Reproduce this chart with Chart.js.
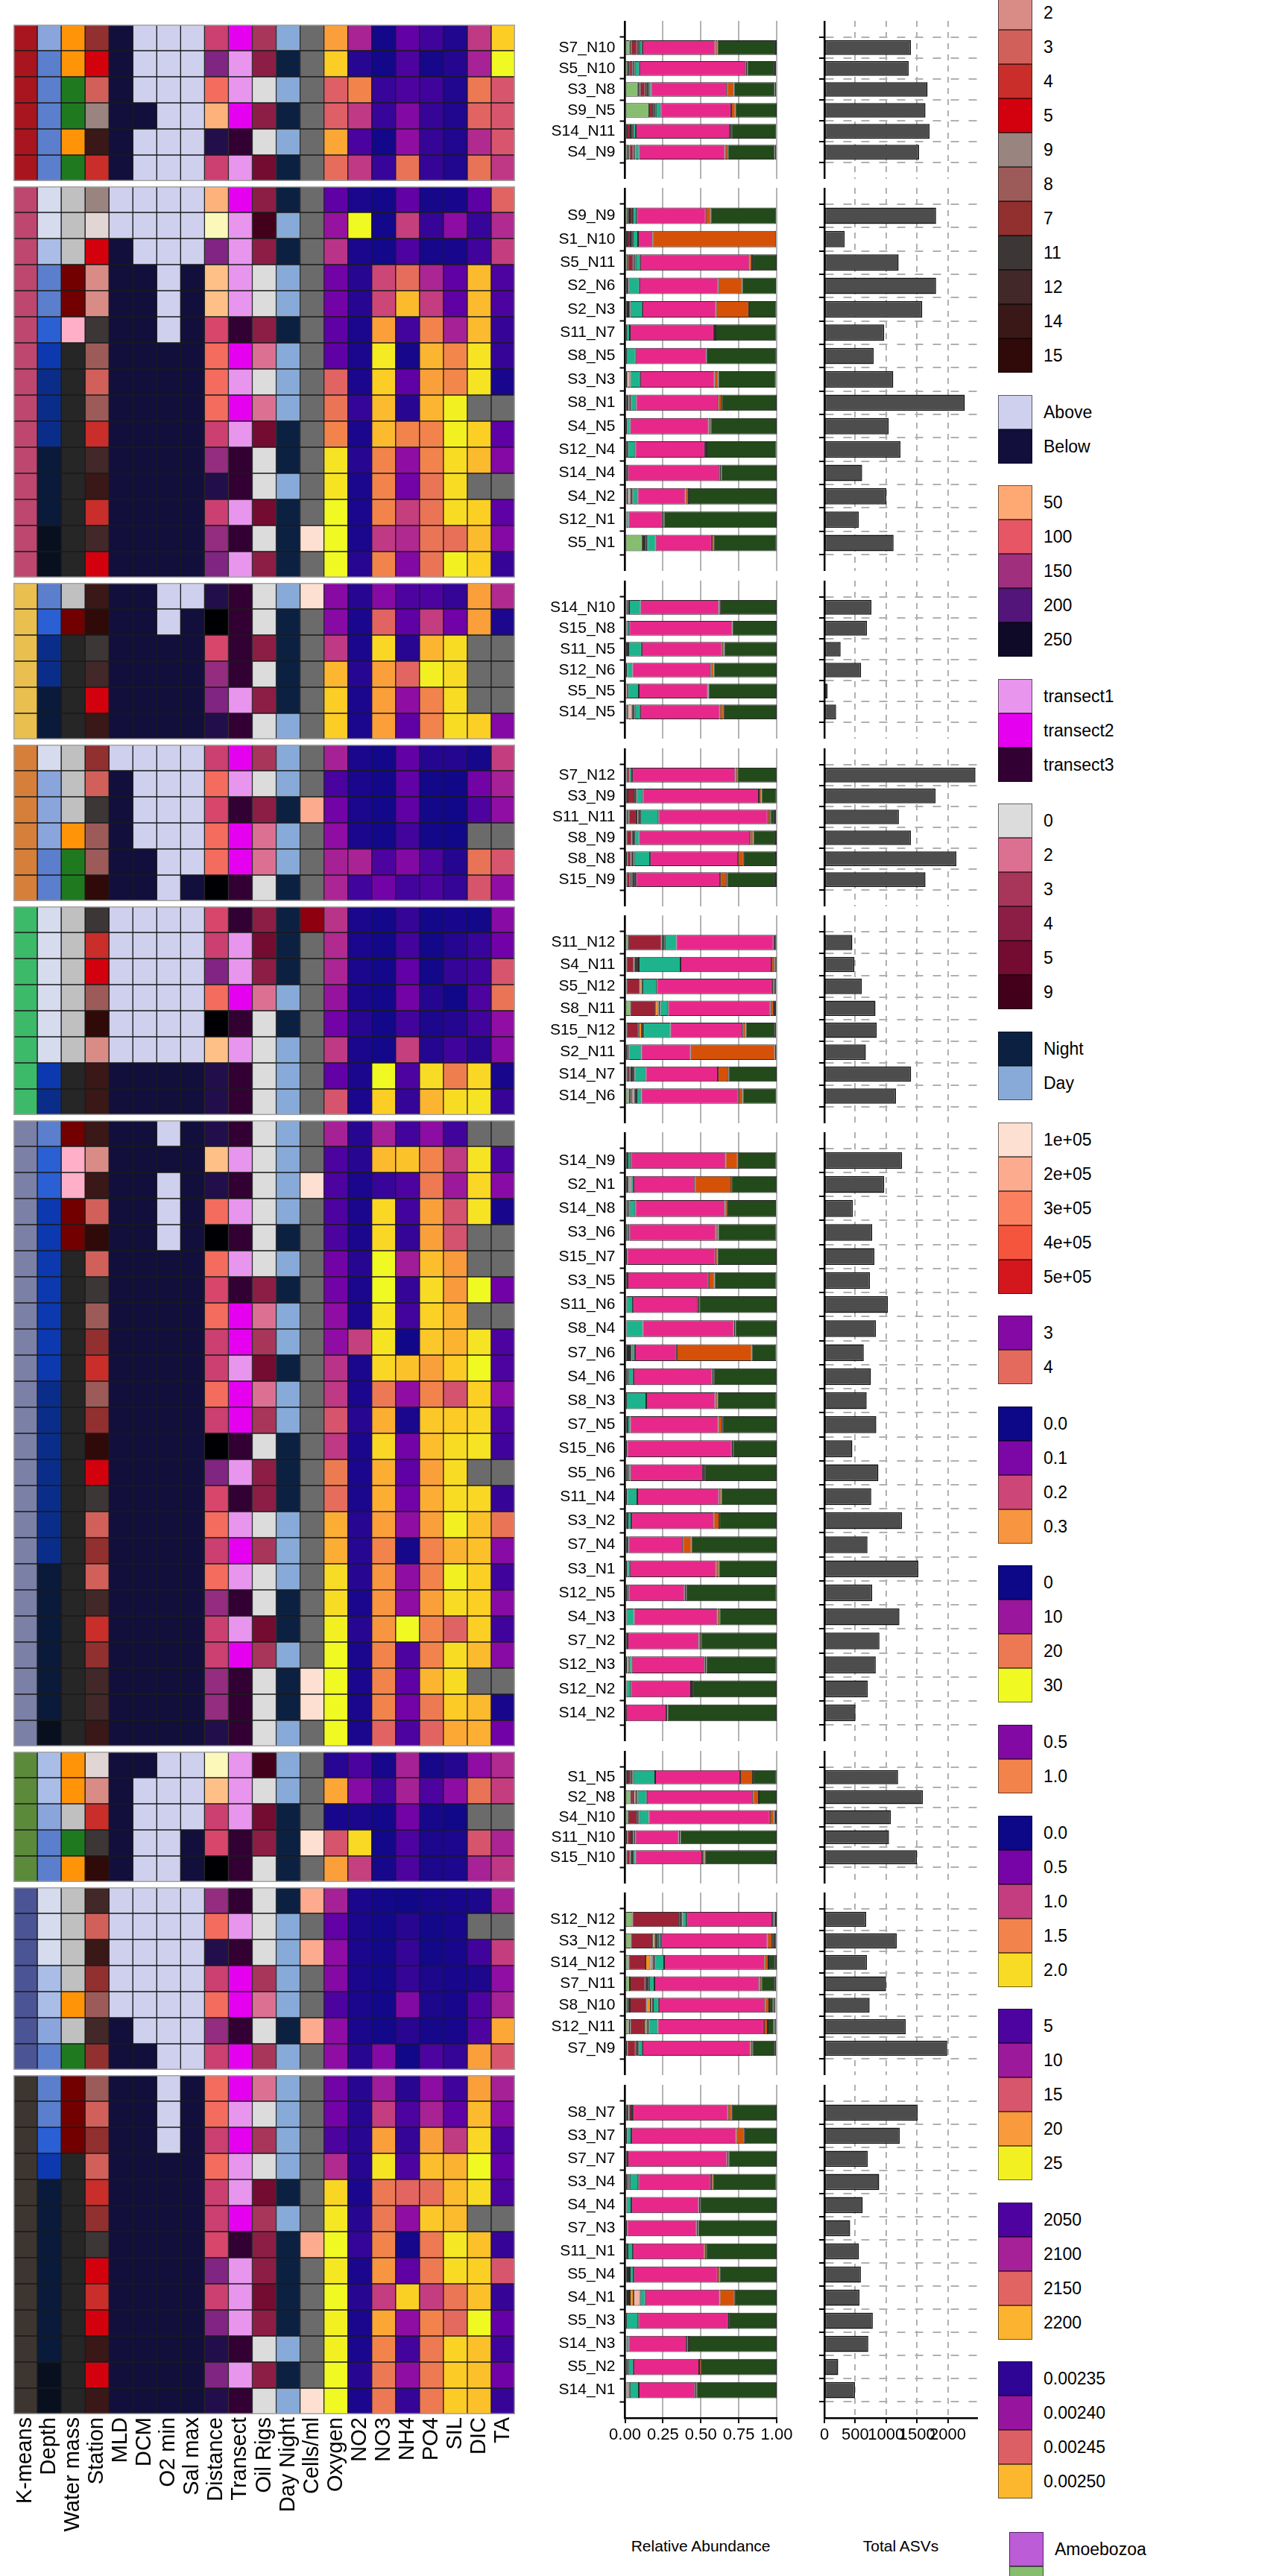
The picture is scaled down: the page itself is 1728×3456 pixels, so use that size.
<!DOCTYPE html>
<html>
<head>
<meta charset="utf-8">
<script src="https://cdn.jsdelivr.net/npm/chart.js@4.4.1/dist/chart.umd.min.js"></script>
<style>
  html, body { margin: 0; padding: 0; background: #fff; }
  body { width: 1728px; height: 3456px; position: relative; overflow: hidden;
         font-family: 'Liberation Sans', Arial, Helvetica, sans-serif; }
  canvas { position: absolute; }
  .key { position: absolute; width: 46px; height: 46px; box-sizing: border-box;
         border: 1px solid rgba(0,0,0,0.55); }
  .keytext { position: absolute; height: 46px; line-height: 46px; font-size: 23px;
             color: #000; white-space: nowrap; }
  .axistitle { position: absolute; font-size: 21px; color: #000; white-space: nowrap;
               transform: translate(-50%, -50%); }
</style>
</head>
<body>
<script>
// ---------- samples, grouped by k-means cluster ----------
const samples = [
  'S7_N10','S5_N10','S3_N8','S9_N5','S14_N11','S4_N9',
  'S9_N9','S1_N10','S5_N11','S2_N6','S2_N3','S11_N7','S8_N5','S3_N3','S8_N1','S4_N5','S12_N4','S14_N4','S4_N2','S12_N1','S5_N1',
  'S14_N10','S15_N8','S11_N5','S12_N6','S5_N5','S14_N5',
  'S7_N12','S3_N9','S11_N11','S8_N9','S8_N8','S15_N9',
  'S11_N12','S4_N11','S5_N12','S8_N11','S15_N12','S2_N11','S14_N7','S14_N6',
  'S14_N9','S2_N1','S14_N8','S3_N6','S15_N7','S3_N5','S11_N6','S8_N4','S7_N6','S4_N6','S8_N3','S7_N5','S15_N6','S5_N6','S11_N4','S3_N2','S7_N4','S3_N1','S12_N5','S4_N3','S7_N2','S12_N3','S12_N2','S14_N2',
  'S1_N5','S2_N8','S4_N10','S11_N10','S15_N10',
  'S12_N12','S3_N12','S14_N12','S7_N11','S8_N10','S12_N11','S7_N9',
  'S8_N7','S3_N7','S7_N7','S3_N4','S4_N4','S7_N3','S11_N1','S5_N4','S4_N1','S5_N3','S14_N3','S5_N2','S14_N1'
];
const groupSizes = [6, 15, 6, 6, 8, 24, 5, 7, 13];

const columns = ['K-means','Depth','Water mass','Station','MLD','DCM','O2 min','Sal max','Distance',
  'Transect','Oil Rigs','Day Night','Cells/ml','Oxygen','NO2','NO3','NH4','PO4','SIL','DIC','TA'];

// station level attributes
const stationIds      = [1, 2, 3, 4, 5, 7, 8, 9, 11, 12, 14, 15];
const stationDistance = [5, 37, 85, 122, 170, 122, 85, 45, 113, 157, 232, 269];
const stationTransect = [1, 1, 1, 1, 1, 2, 2, 2, 3, 3, 3, 3];
const stationOilRigs  = [9, 0, 0, 5, 4, 3, 2, 4, 4, 0, 0, 0];
const stationDayNight = ['Day','Day','Day','Night','Night','Day','Day','Night','Night','Night','Day','Night'];

// sample level attributes (same order as samples)
const depthLevel = [
  3,4,4,4,4,4,
  1,1,2,4,4,5,6,7,7,7,8,8,8,9,9,
  4,5,7,7,8,8,
  1,3,3,3,4,4,
  1,1,1,1,1,1,6,7,
  4,5,5,6,6,6,6,6,6,6,7,7,7,7,7,7,7,8,8,8,8,8,8,9,
  2,2,3,4,4,
  1,1,1,2,2,3,4,
  4,4,5,6,8,8,8,8,8,8,8,9,9
];
const waterMass = ('OOGGOG' + 'LLLRRP' + 'K'.repeat(9) + 'LRKKKK' + 'LLLOGG' + 'LLLLLLKK' +
  'RPPRR' + 'K'.repeat(19) + 'OOLGO' + 'LLLLOLG' + 'RRR' + 'K'.repeat(10)).split('');
const mld = ('BBBBBB' + 'AAB' + 'B'.repeat(12) + 'BBBBBB' + 'ABBBBB' + 'AAAAAABB' +
  'B'.repeat(24) + 'BBBBB' + 'AAAAABB' + 'B'.repeat(13)).split('');
const dcm = ('AAABAA' + 'AAA' + 'B'.repeat(12) + 'BBBBBB' + 'AAAABB' + 'AAAAAABB' +
  'B'.repeat(24) + 'BAAAA' + 'AAAAAAB' + 'B'.repeat(13)).split('');
const o2min = ('AAAAAA' + 'AAAAAA' + 'B'.repeat(9) + 'AABBBB' + 'AAAAAA' + 'AAAAAABB' +
  'ABAAA' + 'B'.repeat(19) + 'AAAAA' + 'AAAAAAA' + 'AAA' + 'B'.repeat(10)).split('');
const salMax = ('AAAAAA' + 'AAA' + 'B'.repeat(12) + 'ABBBBB' + 'AAAAAB' + 'AAAAAABB' +
  'B'.repeat(24) + 'AAABB' + 'AAAAAAA' + 'B'.repeat(13)).split('');

const NA = null;
const cellsPerMl = [
  NA,NA,NA,NA,NA,NA,
  NA,NA,NA,NA,NA,NA,NA,NA,NA,NA,NA,NA,NA,1e5,NA,
  1e5,NA,NA,NA,NA,NA,
  NA,NA,2e5,NA,NA,NA,
  6e5,NA,NA,NA,NA,NA,NA,NA,
  NA,NA,1e5,NA,NA,NA,NA,NA,NA,NA,NA,NA,NA,NA,NA,NA,NA,NA,NA,NA,NA,1e5,1e5,NA,
  NA,NA,NA,1e5,NA,
  2e5,NA,2e5,NA,NA,2e5,NA,
  NA,NA,NA,NA,NA,NA,2e5,NA,NA,NA,NA,NA,1e5
];
const oxygen = [
  4.46,4.80,3.90,3.90,4.52,4.03,
  2.72,3.15,3.46,2.86,2.86,2.72,2.72,3.95,4.09,4.23,4.95,4.95,5.09,5.09,5.09,
  3.03,3.03,3.52,4.63,4.80,4.80,
  3.29,2.57,2.86,3.09,3.29,3.32,
  3.46,3.37,3.32,3.15,2.86,3.52,2.74,3.80,
  3.29,2.60,2.60,2.60,2.60,2.86,2.86,3.09,3.09,3.46,3.52,3.80,3.52,4.15,4.03,4.57,4.57,4.89,4.89,5.03,5.09,5.09,5.09,5.09,
  2.37,4.52,2.29,3.80,4.46,
  3.29,2.74,3.09,3.00,2.60,3.09,3.09,
  2.86,2.86,2.60,3.37,4.86,4.98,5.09,4.98,5.09,5.03,5.03,5.09,5.09
];
const no2 = [
  .15,.02,.28,.18,.05,.18,
  .01,.40,.01,.02,.02,.01,.01,.01,.03,.01,.02,.01,.01,.01,.02,
  .02,.01,.01,.02,.01,.01,
  .01,.01,.01,.01,.15,.04,
  .01,.01,.01,.01,.02,.01,.01,.01,
  .02,.02,.01,.01,.01,.02,.01,.01,.19,.01,.01,.02,.01,.01,.01,.02,.02,.02,.01,.02,.01,.01,.01,.01,
  .05,.11,.01,.37,.19,
  .01,.01,.01,.01,.01,.01,.02,
  .02,.02,.02,.02,.01,.02,.03,.01,.02,.01,.01,.02,.01
];
const no3 = [
  .3,.3,2.4,2.4,.3,2.4,
  .3,.3,.3,15,15,23.4,29,27,25.5,25.5,21,21,21,13.5,21,
  8.4,18,27.6,23.4,23.4,23.4,
  .3,.3,.3,.3,3.9,6.6,
  .3,.3,.3,.3,.3,.3,30,27,
  11,25.5,2.4,27.6,27.6,30,30,28.5,28.5,27.6,20,24.6,27.6,24.6,24.6,23.4,21,22.5,22.5,22.5,21,21,21,18,
  .6,3,.3,.3,.6,
  .3,.3,.3,.3,.3,.3,8.1,
  10.5,14,23.4,28.5,20,20,21,22.5,14,24,21,20,20
];
const nh4 = [
  .40,.34,.34,.50,.54,.94,
  .40,.74,.34,.92,1.18,.31,.21,.39,.25,1.00,.54,.45,.74,.65,.50,
  .34,.39,.25,.89,.54,.39,
  .40,.40,.39,.31,.50,.31,
  .28,.31,.40,.45,.31,.74,.34,.28,
  .31,1.20,.34,.31,.28,.60,.28,.31,.20,1.20,.54,.22,.45,.39,.45,.54,.21,.54,.54,1.35,.34,.39,.45,.34,
  .62,.62,.45,.34,.34,
  .20,.25,.28,.28,.50,.25,.20,
  .25,.34,.28,.34,.89,.54,.21,.39,1.24,.54,.31,.54,.28
];
const po4 = [
  .21,.04,.21,.17,.17,.17,
  .04,.17,.04,.82,1.00,1.50,1.80,1.68,1.80,1.50,1.50,1.40,1.40,1.40,1.40,
  .28,1.00,1.80,2.10,1.50,1.50,
  .10,.02,.02,.02,.28,.28,
  .02,.02,.02,.10,.06,.10,2.00,1.80,
  .63,1.50,1.44,1.68,1.68,1.85,2.00,1.95,1.90,1.68,1.50,1.90,1.85,1.68,1.76,1.68,1.50,1.50,1.68,1.50,1.50,1.80,1.44,1.29,
  .04,.28,.04,.06,.06,
  .04,.02,.02,.06,.06,.04,.28,
  .63,.80,1.68,1.85,1.35,1.90,1.44,1.44,1.00,1.50,1.44,1.44,1.44
];
const sil = [
  2.9,3.1,2.9,2.9,2.9,2.9,
  2.5,8.9,2.5,6.1,6.1,10.7,18.6,18.6,25,25,23.9,23.9,23.9,17,25,
  3.8,7.1,23.9,23.9,23.9,23.9,
  3.1,2.2,2.2,2.2,3.1,3.8,
  2.5,3.1,3.8,2.2,3.1,4.3,18,23.9,
  4.3,12.8,10,14.7,14.7,20,20,21.6,21.6,23,14.7,23,23.9,23.9,23.9,25,21.6,25,23.9,16,23.9,23.9,23,20.9,
  3.1,8.9,2.2,2.7,2.7,
  2.5,2.5,2.5,2.5,2.5,2.5,3.8,
  4.3,6.1,12.8,21.5,22,22,24.5,23.9,17.4,16.5,23.4,23,23
];
const dic = [
  2118,2101,2163,2150,2107,2160,
  2058,2039,2043,2203,2203,2203,2224,2224,NA,2214,2203,NA,2214,2203,2214,
  2188,2188,NA,NA,NA,2214,
  2026,2069,2050,NA,2160,2139,
  2024,2039,2043,2050,2043,2033,2218,2224,
  NA,2224,2218,2224,NA,NA,2235,NA,2224,2235,2214,2218,2224,NA,2218,2207,2207,2214,2214,2214,2203,NA,2203,2197,
  2086,2160,NA,2139,2101,
  2028,NA,2043,2028,2050,2050,2188,
  2188,2203,2218,2235,2220,NA,2207,2214,2207,2235,2207,2207,2207
];
const ta = [
  0.002511,0.002530,0.002444,0.002444,0.002444,0.002424,
  0.002453,0.002415,0.002428,0.002363,0.002363,0.002353,0.002353,0.002342,NA,0.002371,0.002390,NA,0.002371,0.002390,0.002353,
  0.002415,0.002344,NA,NA,NA,0.002390,
  0.002428,0.002409,0.002396,NA,0.002444,0.002396,
  0.002392,0.002380,0.002444,0.002463,0.002396,0.002392,0.002342,0.002353,
  NA,0.002363,0.002392,0.002342,NA,NA,0.002380,NA,0.002363,0.002363,0.002392,0.002363,0.002357,NA,0.002353,0.002463,0.002392,0.002357,0.002392,0.002357,0.002392,NA,0.002342,0.002380,
  0.002415,0.002428,NA,0.002411,0.002424,
  0.002409,NA,0.002428,0.002396,0.002409,0.002492,0.002444,
  0.002409,0.002392,0.002363,0.002373,0.002363,NA,0.002353,0.002444,0.002353,0.002373,0.002357,0.002380,0.002353
];

// ---------- relative abundance, one array per taxon (left to right in the stack) ----------
const abundAmoebozoa = [
  0,0,0,0,0,0,
  0,0,0,0,0,0,0,0,0,0,0,0,0,0,0,
  0,0,0,0,0,0,
  0,0,0,0,0,0,
  0,0,0,0,0,0,0,0,
  0,0,0,0,0,0,0,0,0,0,0,0,0,0,0,0,0,0,0,0,0,0,0,0,
  0,0,0,0,0,
  0,0,0,0,0,0,0,
  0,0,0,0,0,0,0,0,0,0,0,0,0
];
const abundLightGreen = [
  .03,.018,.085,.16,.012,.018,
  .018,.007,.018,0,0,0,0,0,0,0,0,0,0,0,.115,
  0,0,0,0,0,0,
  0,0,.01,0,.014,0,
  .021,.01,.01,.035,0,0,0,.025,
  0,0,0,0,0,0,0,0,0,0,0,0,0,0,0,0,0,0,0,0,0,0,0,0,
  0,.035,.021,0,0,
  .049,.04,.025,.032,.018,.025,.014,
  0,0,0,0,0,0,0,0,0,0,0,0,0
];
const abundDark = [
  .01,.01,.014,0,0,.012,
  .014,.01,0,.025,.035,.007,.007,.014,.024,.014,.018,.018,.01,.01,.021,
  .01,.01,.007,.014,.004,.01,
  .01,.017,.014,.01,0,.01,
  0,0,0,0,.01,.014,.01,.01,
  .017,.025,.01,.02,.014,.017,.01,.01,.045,.021,.007,.017,.014,.021,.014,.017,.025,.014,.014,.01,.017,.014,.01,.007,
  .017,0,0,.014,.01,
  0,0,0,0,.014,.01,0,
  .025,.014,.017,.014,.01,.014,.017,.032,.032,.007,.01,.021,.01
];
const abundDarkRed = [
  .04,.02,.035,.025,.025,.025,
  .02,.02,.035,0,0,0,0,0,.014,0,0,0,0,0,0,
  0,0,0,0,0,0,
  .02,.045,.052,.035,.025,.025,
  .22,.049,.088,.165,.08,.01,.018,0,
  0,0,0,0,0,0,0,0,0,0,0,0,0,0,0,0,0,0,0,0,0,0,0,0,
  .021,.021,.056,.028,.025,
  .308,.14,.11,.102,.11,.09,.056,
  .017,0,0,0,0,0,0,0,0,0,0,0,0
];
const abundOrange = [
  0,0,.01,0,0,0,
  0,0,0,0,0,0,0,0,0,0,0,0,.01,0,0,
  .01,0,0,0,0,.01,
  0,0,.014,0,0,.01,
  0,0,.017,.021,.021,0,.007,.01,
  0,0,.01,0,0,0,0,0,0,0,0,0,0,0,0,0,0,0,0,0,0,0,0,0,
  .01,0,0,0,0,
  0,.018,.032,0,.028,.017,.01,
  0,0,0,0,0,0,0,0,.025,0,0,0,0
];
const abundPeach = [
  0,0,0,0,0,0,
  0,0,0,0,0,0,0,.02,0,0,0,0,.018,0,.01,
  0,0,.01,0,.014,.025,
  0,0,0,0,0,0,
  0,0,0,0,.01,0,.007,.014,
  0,.014,.01,0,0,0,0,0,0,0,0,0,0,0,0,0,0,0,0,0,0,.014,0,0,
  0,.014,0,0,0,
  0,0,.014,0,.014,0,0,
  0,0,0,.01,0,0,0,0,.042,0,0,0,.014
];
const abundDark2 = [
  .015,.017,.01,.018,.014,.014,
  0,.014,.017,0,0,0,0,0,0,0,0,0,.01,0,0,
  .007,0,.005,0,0,.02,
  0,.017,.01,.017,.021,.017,
  .021,.032,0,.01,0,0,.021,.017,
  0,0,0,0,0,0,0,0,0,0,0,0,0,0,0,0,0,0,0,0,0,0,0,0,
  .007,.014,.017,.017,.017,
  .021,.02,.014,.025,0,.014,.007,
  0,0,0,.007,0,0,0,0,0,0,0,0,.007
];
const abundTeal = [
  .02,.03,.018,.032,.02,.025,
  .025,.035,.03,.07,.08,.025,.063,.066,.035,.021,.05,0,.035,.015,.056,
  .077,.018,.088,.035,.073,.035,
  .017,.038,.12,.032,.105,.01,
  .077,.275,.095,.053,.179,.084,.074,.032,
  .021,.017,.038,.01,0,0,.042,.108,.021,.035,.133,.017,0,.014,.067,.025,0,.017,.01,.049,0,.017,.028,0,
  .144,.06,.063,.01,.017,
  .028,.021,.063,.035,.039,.06,.028,
  .01,.028,0,.056,.032,0,.035,.025,.035,.08,.014,.035,.06
];
const abundPink = [
  .48,.70,.50,.465,.62,.565,
  .455,.095,.72,.52,.485,.555,.465,.49,.54,.515,.46,.605,.315,.22,.37,
  .515,.68,.53,.515,.455,.525,
  .68,.765,.72,.73,.58,.555,
  .64,.60,.76,.675,.475,.325,.475,.64,
  .625,.405,.59,.57,.582,.535,.428,.60,.275,.52,.455,.58,.69,.479,.539,.542,.357,.568,.37,.55,.469,.48,.397,.266,
  .56,.70,.798,.285,.44,
  .565,.70,.66,.69,.70,.70,.71,
  .627,.69,.656,.48,.445,.458,.468,.554,.49,.593,.382,.433,.37
];
const abundRust = [
  .015,.01,.045,.028,.01,.018,
  .034,.815,.018,.156,.218,.01,0,.024,.024,.014,.01,.01,.022,.01,.014,
  .012,0,.014,.021,.004,.025,
  .014,.017,.017,.021,.038,.045,
  0,.021,.014,.021,.021,.555,.07,.028,
  .08,.24,.017,.014,.014,.038,.01,.01,.495,.01,.014,.028,.007,.01,.014,.038,.056,.021,.01,.014,.014,.01,.01,.007,
  .084,.038,.028,.01,.017,
  0,.032,.028,.014,.028,.025,.014,
  .025,.056,.01,.014,.01,.01,.014,.014,.10,.01,.014,.014,.01
];
const abundDarkGreen = [
  .38,.18,.27,.272,.295,.31,
  .43,0,.162,.224,.18,.40,.464,.38,.363,.436,.46,.367,.58,.745,.413,
  .369,.292,.346,.415,.45,.35,
  .26,.10,.028,.145,.207,.318,
  0,0,0,0,.19,0,.318,.22,
  .255,.30,.32,.384,.39,.408,.51,.272,.161,.415,.39,.358,.289,.476,.366,.378,.562,.38,.595,.377,.50,.464,.555,.72,
  .156,.118,0,.636,.464,
  .012,.014,.04,.088,.028,.042,.147,
  .296,.212,.317,.417,.503,.518,.466,.375,.276,.31,.58,.497,.529
];
const abundEnd = [
  .01,.01,.01,0,0,.01,
  0,0,0,0,0,0,0,0,0,0,0,0,0,0,0,
  0,0,0,0,0,0,
  0,0,.01,.01,.01,.01,
  .019,.012,.012,.015,.01,.01,0,0,
  0,0,0,0,0,0,0,0,0,0,0,0,0,0,0,0,0,0,0,0,0,0,0,0,
  0,0,.017,0,.01,
  .017,.012,.014,.01,.014,.014,.01,
  0,0,0,0,0,0,0,0,0,0,0,0,0
];

const totalASVs = [
  1401,1366,1672,1638,1703,1534,
  1810,328,1203,1810,1586,970,797,1116,2276,1043,1233,612,1004,556,1121,
  763,690,263,595,52,190,
  2448,1802,1207,1401,2138,1638,
  453,487,608,828,849,672,1405,1160,
  1259,970,461,776,810,737,1030,836,638,754,685,841,453,875,759,1259,698,1522,776,1216,892,832,703,504,
  1194,1595,1078,1047,1500,
  677,1172,690,1000,733,1319,1991,
  1513,1220,703,888,621,418,560,591,569,784,711,224,496
];
const asvTicks = [0, 500, 1000, 1500, 2000];

const taxa = ['Amoebozoa','Archaeplastida','Taxon 3','Taxon 4','Taxon 5','Taxon 6','Taxon 7','Taxon 8','Taxon 9','Taxon 10','Taxon 11','Taxon 12'];
const taxaSeries = [abundAmoebozoa, abundLightGreen, abundDark, abundDarkRed, abundOrange, abundPeach,
  abundDark2, abundTeal, abundPink, abundRust, abundDarkGreen, abundEnd];

// legend breaks
const stationLegend = [1, 2, 3, 4, 5, 9, 8, 7, 11, 12, 14, 15];
const layerLegend = ['Above', 'Below'];
const distanceLegend = [50, 100, 150, 200, 250];
const transectLegend = ['transect1', 'transect2', 'transect3'];
const oilLegend = [0, 2, 3, 4, 5, 9];
const dayNightLegend = ['Night', 'Day'];
const cellsLegend = [1e5, 2e5, 3e5, 4e5, 5e5];
const oxygenLegend = [3, 4];
const no2Legend = [0, 0.1, 0.2, 0.3];
const no3Legend = [0, 10, 20, 30];
const nh4Legend = [0.5, 1.0];
const po4Legend = [0, 0.5, 1.0, 1.5, 2.0];
const silLegend = [5, 10, 15, 20, 25];
const dicLegend = [2050, 2100, 2150, 2200];
const taLegend = [0.00235, 0.00240, 0.00245, 0.00250];

// ---------- colours ----------
const clusterColors = ['#a8151e','#bd476f','#e9bf4f','#d67f3a','#3cba6a','#7a80a6','#5b8a3b','#4b5494','#3d352f'];
const depthColors = ['#d6dcee','#aabde6','#8aa5dc','#5b7fcc','#2b5fd4','#0c39b0','#0b2d8a','#0a1a3a','#081020'];
const waterMassColors = { O: '#ff9408', G: '#1f7a1f', L: '#c0c0c0', R: '#730000', P: '#ffafc8', K: '#262626' };
const stationColors = { 1: '#e2d6d5', 2: '#d98c86', 3: '#d2605a', 4: '#c92e2a', 5: '#d3000d', 9: '#998480',
  8: '#9c5b58', 7: '#922f2f', 11: '#3d3636', 12: '#422828', 14: '#3a1817', 15: '#300a08' };
const layerColors = { A: '#cfcfee', B: '#120f3d' };
const transectColors = { 1: '#e895ee', 2: '#e600f0', 3: '#330033' };
const oilColors = { 0: '#dcdcdc', 2: '#dc7093', 3: '#a8365a', 4: '#8c1e45', 5: '#740b30', 9: '#43001a' };
const dayNightColors = { Night: '#0c2142', Day: '#87aad8' };
const NA_COLOR = '#6b6b6b';
const PLASMA = ['#0d0887','#41049d','#6a00a8','#8f0da4','#b12a90','#cc4778','#e16462','#f2844b','#fca636','#fcce25','#f0f921'];
const MAGMA = ['#000004','#140e36','#3b0f70','#641a80','#8c2981','#b73779','#de4968','#f7705c','#fe9f6d','#fecf92','#fcfdbf'];
const cellStops = [[1e5,'#fde0d2'],[2e5,'#fcab8f'],[3e5,'#fb8060'],[4e5,'#f6553d'],[5e5,'#d3171d'],[6e5,'#8e0010']];
const chemDomains = { Oxygen: [2.23, 5.09], NO2: [0, 0.4], NO3: [0, 30], NH4: [0.19, 1.35], PO4: [0, 2.15],
  SIL: [2, 25.5], DIC: [2022, 2235], TA: [0.002338, 0.00253] };
const chemValues = { Oxygen: oxygen, NO2: no2, NO3: no3, NH4: nh4, PO4: po4, SIL: sil, DIC: dic, TA: ta };
const taxaColors = ['#bc5cd6','#86bd6e','#2b2b2b','#9b2335','#f7901e','#f2b5a5','#3a3a3a','#1db38c','#e7288a','#d55108','#234a1a','#2d2f3a'];

// sanity check on the hand typed arrays
const lengthCheck = { depthLevel, waterMass, mld, dcm, o2min, salMax, cellsPerMl, oxygen, no2, no3, nh4, po4, sil, dic, ta, totalASVs };
taxaSeries.forEach((s, k) => { lengthCheck['taxon' + k] = s; });
for (const [k, v] of Object.entries(lengthCheck)) {
  if (v.length !== samples.length) throw new Error(k + ' has ' + v.length + ' values');
}

function hexToRgb(h) { const n = parseInt(h.slice(1), 16); return [n >> 16, (n >> 8) & 255, n & 255]; }
function mix(a, b, f) {
  const A = hexToRgb(a), B = hexToRgb(b);
  return 'rgb(' + A.map((v, k) => Math.round(v + (B[k] - v) * f)).join(',') + ')';
}
function ramp(stops, t) {
  t = Math.max(0, Math.min(1, t));
  const p = t * (stops.length - 1);
  const k = Math.min(Math.floor(p), stops.length - 2);
  return mix(stops[k], stops[k + 1], p - k);
}
function distanceColor(d) { return ramp(MAGMA, 1 - (d - 2) / 267); }
function cellsColor(v) {
  if (v == null) return NA_COLOR;
  for (let k = 0; k < cellStops.length - 1; k++) {
    const [v0, c0] = cellStops[k], [v1, c1] = cellStops[k + 1];
    if (v <= v1) return mix(c0, c1, Math.max(0, (v - v0) / (v1 - v0)));
  }
  return cellStops[cellStops.length - 1][1];
}
function chemColor(name, v) {
  if (v == null) return NA_COLOR;
  const [lo, hi] = chemDomains[name];
  return ramp(PLASMA, (v - lo) / (hi - lo));
}

// cluster of each row follows the grouping
const clusterOf = [];
groupSizes.forEach((n, g) => { for (let k = 0; k < n; k++) clusterOf.push(g); });
const stationOf = samples.map(s => Number(s.split('_')[0].slice(1)));

function cellColor(c, i) {
  const s = stationOf[i], si = stationIds.indexOf(s);
  const name = columns[c];
  switch (name) {
    case 'K-means': return clusterColors[clusterOf[i]];
    case 'Depth': return depthColors[depthLevel[i] - 1];
    case 'Water mass': return waterMassColors[waterMass[i]];
    case 'Station': return stationColors[s];
    case 'MLD': return layerColors[mld[i]];
    case 'DCM': return layerColors[dcm[i]];
    case 'O2 min': return layerColors[o2min[i]];
    case 'Sal max': return layerColors[salMax[i]];
    case 'Distance': return distanceColor(stationDistance[si]);
    case 'Transect': return transectColors[stationTransect[si]];
    case 'Oil Rigs': return oilColors[stationOilRigs[si]];
    case 'Day Night': return dayNightColors[stationDayNight[si]];
    case 'Cells/ml': return cellsColor(cellsPerMl[i]);
    default: return chemColor(name, chemValues[name][i]);
  }
}

// ---------- layout ----------
// heatmap tiles
const ROW_H = 35, GROUP_GAP = 7, TOP_Y = 33;
const HEAT_X = 18, COL_W = 32.05;
// bar panels (own row pitch, with a small expansion at both ends)
const BAR_TOP = 28.3, BAR_P = 33.63, BAR_E = 5, BAR_GAP = 12.4;
const ABUND_X0 = 838.5, ABUND_X1 = 1041.7, ABUND_LABEL_W = 120.5;
const ASV_X0 = 1106, ASV_PX = 0.0828, ASV_MAX = 2476;
const FONT = "'Liberation Sans', Arial, Helvetica, sans-serif";

Chart.defaults.font.family = FONT;
Chart.defaults.color = '#000';
Chart.defaults.animation = false;

function addCanvas(x, y, w, h) {
  const c = document.createElement('canvas');
  c.width = Math.round(w);
  c.height = Math.round(h);
  c.style.left = Math.round(x) + 'px';
  c.style.top = Math.round(y) + 'px';
  c.style.width = Math.round(w) + 'px';
  c.style.height = Math.round(h) + 'px';
  document.body.appendChild(c);
  return c;
}

const heatFrame = {
  id: 'heatFrame',
  afterDatasetsDraw(chart) {
    const { ctx, chartArea: a } = chart;
    ctx.save();
    ctx.strokeStyle = '#a3a3a3';
    ctx.lineWidth = 1.5;
    ctx.strokeRect(a.left + 0.75, a.top + 0.75, a.right - a.left - 1.5, a.bottom - a.top - 1.5);
    ctx.restore();
  }
};

function drawHeatmap(idx, top, last) {
  const h = idx.length * ROW_H;
  const extra = last ? 200 : 0;
  const canvas = addCanvas(HEAT_X, top, COL_W * columns.length, h + extra);
  const scales = {
    x: { type: 'linear', stacked: true, min: 0, max: columns.length, display: false },
    y: { type: 'category', stacked: true, display: false }
  };
  if (last) {
    scales.cols = {
      type: 'category', axis: 'x', position: 'bottom', labels: columns, offset: true,
      grid: { display: false, drawTicks: false }, border: { display: false },
      ticks: { autoSkip: false, minRotation: 90, maxRotation: 90, padding: 4, font: { size: 29 } },
      afterFit(s) { s.height = extra; s.paddingLeft = 0; s.paddingRight = 0; }
    };
  }
  new Chart(canvas, {
    type: 'bar',
    data: {
      labels: idx.map(i => samples[i]),
      datasets: columns.map((col, c) => ({
        label: col,
        data: idx.map(() => 1),
        backgroundColor: idx.map(i => cellColor(c, i)),
        borderColor: '#1b1b1b', borderWidth: 1, borderSkipped: false,
        barPercentage: 1, categoryPercentage: 1
      }))
    },
    options: {
      indexAxis: 'y', responsive: false, animation: false,
      layout: { padding: 0 },
      plugins: { legend: { display: false }, tooltip: { enabled: false } },
      scales
    },
    plugins: [heatFrame]
  });
}

// shared row axis for the two bar panels: one tick per sample
function rowScale(names, showLabels, gridOpts, borderOpts, width) {
  return {
    type: 'linear', reverse: true, stacked: true,
    min: -0.5 - BAR_E / BAR_P, max: names.length - 0.5 + BAR_E / BAR_P,
    afterBuildTicks(s) { s.ticks = names.map((_, k) => ({ value: k })); },
    ticks: { display: showLabels, autoSkip: false, padding: 6, font: { size: 21 }, callback: v => names[v] },
    grid: gridOpts,
    border: borderOpts,
    afterFit(s) { s.width = width; s.paddingTop = 0; s.paddingBottom = 0; }
  };
}

function drawAbundance(idx, top, last) {
  const names = idx.map(i => samples[i]);
  const h = idx.length * BAR_P + 2 * BAR_E;
  const bottom = last ? 45 : 0;
  const padRight = 30;
  const left = ABUND_X0 - ABUND_LABEL_W;
  const canvas = addCanvas(left, top, ABUND_X1 - left + padRight, h + bottom);
  new Chart(canvas, {
    type: 'bar',
    data: {
      datasets: taxa.map((t, k) => ({
        label: t,
        data: idx.map((i, r) => ({ x: taxaSeries[k][i] || null, y: r })),
        backgroundColor: taxaColors[k],
        borderColor: '#2a2a2a', borderWidth: 1, borderSkipped: false,
        barPercentage: 0.7, categoryPercentage: 1
      }))
    },
    options: {
      indexAxis: 'y', responsive: false, animation: false,
      layout: { padding: { right: padRight } },
      plugins: { legend: { display: false }, tooltip: { enabled: false } },
      scales: {
        x: {
          type: 'linear', stacked: true, min: 0, max: 1,
          ticks: { display: last, stepSize: 0.25, autoSkip: false, maxRotation: 0, padding: 3,
                   font: { size: 22 }, callback: v => v.toFixed(2) },
          grid: { color: '#b3b3b3', lineWidth: 2, drawTicks: last, tickLength: 7, tickColor: '#000', tickWidth: 2 },
          border: { display: last, color: '#000', width: 2.5 },
          afterFit(s) { s.height = bottom; s.paddingLeft = 0; s.paddingRight = 0; }
        },
        y: rowScale(names, true,
          { drawOnChartArea: false, drawTicks: true, tickLength: 7, tickColor: '#000', tickWidth: 2 },
          { color: '#000', width: 2.5 }, ABUND_LABEL_W)
      }
    }
  });
}

function drawASV(idx, top, last) {
  const names = idx.map(i => samples[i]);
  const h = idx.length * BAR_P + 2 * BAR_E;
  const bottom = last ? 45 : 0;
  const padRight = 14;
  const left = ASV_X0 - 8;
  const right = ASV_X0 + ASV_MAX * ASV_PX;
  const canvas = addCanvas(left, top, right - left + padRight, h + bottom);
  new Chart(canvas, {
    type: 'bar',
    data: {
      datasets: [{
        label: 'Total ASVs',
        data: idx.map((i, r) => ({ x: totalASVs[i], y: r })),
        backgroundColor: '#4d4d4d', borderColor: '#111', borderWidth: 1.5, borderSkipped: false,
        barPercentage: 0.7, categoryPercentage: 1
      }]
    },
    options: {
      indexAxis: 'y', responsive: false, animation: false,
      layout: { padding: { right: padRight } },
      plugins: { legend: { display: false }, tooltip: { enabled: false } },
      scales: {
        x: {
          type: 'linear', min: 0, max: ASV_MAX,
          afterBuildTicks(s) { s.ticks = asvTicks.map(v => ({ value: v })); },
          ticks: { display: last, autoSkip: false, maxRotation: 0, padding: 3,
                   font: { size: 22 }, callback: v => String(v) },
          grid: { color: '#b0b0b0', lineWidth: 2, drawTicks: last, tickLength: 7, tickColor: '#000', tickWidth: 2 },
          border: { display: last, color: '#000', width: 2.5, dash: [8, 7] },
          afterFit(s) { s.height = bottom; s.paddingLeft = 0; s.paddingRight = 0; }
        },
        y: rowScale(names, false,
          { color: '#b0b0b0', lineWidth: 2, drawTicks: true, tickLength: 7, tickColor: '#000', tickWidth: 2 },
          { color: '#000', width: 2.5, dash: [11, 13] }, 8)
      }
    }
  });
}

let start = 0, yHeat = TOP_Y, yBar = BAR_TOP;
groupSizes.forEach((size, g) => {
  const idx = [];
  for (let k = 0; k < size; k++) idx.push(start + k);
  const last = g === groupSizes.length - 1;
  drawHeatmap(idx, yHeat, last);
  drawAbundance(idx, yBar, last);
  drawASV(idx, yBar, last);
  start += size;
  yHeat += size * ROW_H + GROUP_GAP;
  yBar += size * BAR_P + 2 * BAR_E + BAR_GAP;
});

// axis titles
function axisTitle(text, cx, cy) {
  const d = document.createElement('div');
  d.className = 'axistitle';
  d.textContent = text;
  d.style.left = cx + 'px';
  d.style.top = cy + 'px';
  document.body.appendChild(d);
}
axisTitle('Relative Abundance', (ABUND_X0 + ABUND_X1) / 2, 3416);
axisTitle('Total ASVs', ASV_X0 + ASV_MAX * ASV_PX / 2, 3416);

// ---------- legends ----------
const KEY = 46, LEGEND_GAP = 29.6;
function addKey(x, top, color, label) {
  const k = document.createElement('div');
  k.className = 'key';
  k.style.left = x + 'px';
  k.style.top = top + 'px';
  k.style.background = color;
  document.body.appendChild(k);
  const t = document.createElement('div');
  t.className = 'keytext';
  t.textContent = label;
  t.style.left = (x + 61) + 'px';
  t.style.top = top + 'px';
  document.body.appendChild(t);
}
const legendBlocks = [
  { labels: stationLegend.map(String), colors: stationLegend.map(s => stationColors[s]) },
  { labels: layerLegend, colors: ['A', 'B'].map(k => layerColors[k]) },
  { labels: distanceLegend.map(String), colors: distanceLegend.map(distanceColor) },
  { labels: transectLegend, colors: [1, 2, 3].map(k => transectColors[k]) },
  { labels: oilLegend.map(String), colors: oilLegend.map(k => oilColors[k]) },
  { labels: dayNightLegend, colors: dayNightLegend.map(k => dayNightColors[k]) },
  { labels: cellsLegend.map(v => v.toExponential(0).replace('e+', 'e+0')), colors: cellsLegend.map(cellsColor) },
  { labels: oxygenLegend.map(String), colors: oxygenLegend.map(v => chemColor('Oxygen', v)) },
  { labels: no2Legend.map(v => v.toFixed(1)), colors: no2Legend.map(v => chemColor('NO2', v)) },
  { labels: no3Legend.map(String), colors: no3Legend.map(v => chemColor('NO3', v)) },
  { labels: nh4Legend.map(v => v.toFixed(1)), colors: nh4Legend.map(v => chemColor('NH4', v)) },
  { labels: po4Legend.map(v => v.toFixed(1)), colors: po4Legend.map(v => chemColor('PO4', v)) },
  { labels: silLegend.map(String), colors: silLegend.map(v => chemColor('SIL', v)) },
  { labels: dicLegend.map(String), colors: dicLegend.map(v => chemColor('DIC', v)) },
  { labels: taLegend.map(v => v.toFixed(5)), colors: taLegend.map(v => chemColor('TA', v)) }
];
let ly = -52;
legendBlocks.forEach((b, k) => {
  if (k) ly += LEGEND_GAP;
  b.labels.forEach((lab, j) => { addKey(1339, ly, b.colors[j], lab); ly += KEY; });
});
ly += 45;
taxa.slice(0, 2).forEach((t, k) => { addKey(1354, ly, taxaColors[k], t); ly += KEY; });
</script>
</body>
</html>
